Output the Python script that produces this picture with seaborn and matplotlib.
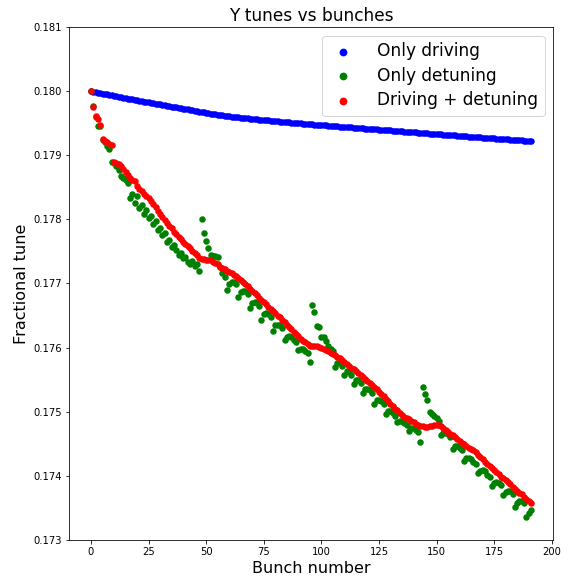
import matplotlib
matplotlib.use("Agg")
import matplotlib.pyplot as plt
from matplotlib.ticker import FormatStrFormatter, MultipleLocator
import numpy as np
import pandas as pd
import seaborn as sns

# Bunch index along the ring
bunches = list(range(192))

# Fractional vertical tune per bunch, driving only
tune_driving = [
    0.180000, 0.179992, 0.179985, 0.179977, 0.179970, 0.179962, 0.179955, 0.179948, 0.179940, 0.179933, 0.179926, 0.179919,
    0.179912, 0.179905, 0.179898, 0.179891, 0.179884, 0.179877, 0.179870, 0.179864, 0.179857, 0.179850, 0.179844, 0.179837,
    0.179831, 0.179824, 0.179818, 0.179812, 0.179806, 0.179800, 0.179794, 0.179787, 0.179780, 0.179774, 0.179767, 0.179760,
    0.179754, 0.179747, 0.179740, 0.179734, 0.179727, 0.179720, 0.179714, 0.179707, 0.179700, 0.179694, 0.179687, 0.179681,
    0.179674, 0.179668, 0.179661, 0.179655, 0.179650, 0.179644, 0.179639, 0.179634, 0.179629, 0.179624, 0.179619, 0.179614,
    0.179609, 0.179604, 0.179600, 0.179595, 0.179591, 0.179587, 0.179583, 0.179579, 0.179575, 0.179571, 0.179567, 0.179563,
    0.179559, 0.179555, 0.179552, 0.179548, 0.179545, 0.179542, 0.179538, 0.179535, 0.179532, 0.179528, 0.179525, 0.179522,
    0.179519, 0.179515, 0.179512, 0.179509, 0.179506, 0.179503, 0.179500, 0.179497, 0.179494, 0.179491, 0.179488, 0.179485,
    0.179482, 0.179479, 0.179476, 0.179473, 0.179470, 0.179467, 0.179464, 0.179462, 0.179459, 0.179456, 0.179453, 0.179450,
    0.179448, 0.179445, 0.179442, 0.179439, 0.179436, 0.179434, 0.179431, 0.179428, 0.179425, 0.179422, 0.179420, 0.179417,
    0.179414, 0.179411, 0.179408, 0.179406, 0.179403, 0.179400, 0.179397, 0.179394, 0.179392, 0.179389, 0.179386, 0.179383,
    0.179380, 0.179378, 0.179375, 0.179372, 0.179369, 0.179366, 0.179364, 0.179361, 0.179358, 0.179355, 0.179352, 0.179350,
    0.179347, 0.179344, 0.179341, 0.179338, 0.179336, 0.179333, 0.179330, 0.179327, 0.179324, 0.179322, 0.179319, 0.179316,
    0.179314, 0.179311, 0.179308, 0.179306, 0.179303, 0.179300, 0.179298, 0.179295, 0.179292, 0.179290, 0.179287, 0.179284,
    0.179282, 0.179279, 0.179276, 0.179274, 0.179271, 0.179268, 0.179266, 0.179263, 0.179260, 0.179258, 0.179255, 0.179252,
    0.179250, 0.179247, 0.179244, 0.179242, 0.179239, 0.179236, 0.179234, 0.179231, 0.179228, 0.179226, 0.179223, 0.179220,
]

# Fractional vertical tune per bunch, detuning only
tune_detuning = [
    0.18000, 0.17977, 0.17960, 0.17945, 0.17945, 0.17924, 0.17920, 0.17915, 0.17909, 0.17890, 0.17888, 0.17884,
    0.17877, 0.17868, 0.17864, 0.17861, 0.17856, 0.17833, 0.17840, 0.17826, 0.17836, 0.17817, 0.17822, 0.17809,
    0.17815, 0.17802, 0.17806, 0.17793, 0.17797, 0.17783, 0.17786, 0.17776, 0.17778, 0.17765, 0.17768, 0.17757,
    0.17760, 0.17752, 0.17745, 0.17748, 0.17740, 0.17741, 0.17733, 0.17730, 0.17735, 0.17727, 0.17730, 0.17719,
    0.17800, 0.17778, 0.17766, 0.17755, 0.17745, 0.17743, 0.17743, 0.17741, 0.17726, 0.17716, 0.17710, 0.17690,
    0.17700, 0.17702, 0.17702, 0.17699, 0.17679, 0.17687, 0.17689, 0.17688, 0.17683, 0.17662, 0.17670, 0.17671,
    0.17670, 0.17665, 0.17643, 0.17652, 0.17654, 0.17652, 0.17648, 0.17626, 0.17635, 0.17636, 0.17635, 0.17630,
    0.17612, 0.17617, 0.17618, 0.17617, 0.17612, 0.17608, 0.17596, 0.17598, 0.17598, 0.17595, 0.17591, 0.17578,
    0.17666, 0.17656, 0.17634, 0.17632, 0.17617, 0.17617, 0.17610, 0.17603, 0.17598, 0.17594, 0.17570, 0.17576,
    0.17576, 0.17571, 0.17558, 0.17563, 0.17562, 0.17558, 0.17544, 0.17549, 0.17549, 0.17545, 0.17529, 0.17535,
    0.17536, 0.17534, 0.17530, 0.17512, 0.17519, 0.17519, 0.17517, 0.17512, 0.17496, 0.17501, 0.17501, 0.17498,
    0.17493, 0.17484, 0.17485, 0.17485, 0.17482, 0.17479, 0.17470, 0.17475, 0.17475, 0.17472, 0.17468, 0.17453,
    0.17539, 0.17528, 0.17518, 0.17499, 0.17497, 0.17494, 0.17490, 0.17486, 0.17464, 0.17467, 0.17467, 0.17465,
    0.17460, 0.17442, 0.17446, 0.17446, 0.17444, 0.17440, 0.17423, 0.17428, 0.17428, 0.17426, 0.17422, 0.17418,
    0.17404, 0.17408, 0.17409, 0.17407, 0.17402, 0.17398, 0.17384, 0.17389, 0.17391, 0.17389, 0.17385, 0.17370,
    0.17375, 0.17377, 0.17377, 0.17372, 0.17352, 0.17358, 0.17361, 0.17361, 0.17357, 0.17336, 0.17342, 0.17347,
]

# Fractional vertical tune per bunch, driving and detuning combined
tune_both = [
    0.18000, 0.17975, 0.17961, 0.17956, 0.17947, 0.17925, 0.17922, 0.17920, 0.17918, 0.17916, 0.17890, 0.17888,
    0.17886, 0.17883, 0.17878, 0.17874, 0.17869, 0.17865, 0.17862, 0.17860, 0.17852, 0.17848, 0.17845, 0.17840,
    0.17837, 0.17834, 0.17829, 0.17824, 0.17819, 0.17813, 0.17808, 0.17804, 0.17799, 0.17795, 0.17790, 0.17786,
    0.17781, 0.17777, 0.17773, 0.17769, 0.17765, 0.17762, 0.17758, 0.17755, 0.17751, 0.17748, 0.17744, 0.17740,
    0.17738, 0.17738, 0.17737, 0.17737, 0.17736, 0.17734, 0.17732, 0.17730, 0.17726, 0.17724, 0.17722, 0.17720,
    0.17718, 0.17716, 0.17714, 0.17712, 0.17709, 0.17706, 0.17703, 0.17700, 0.17696, 0.17692, 0.17689, 0.17685,
    0.17682, 0.17678, 0.17675, 0.17671, 0.17668, 0.17664, 0.17661, 0.17657, 0.17654, 0.17650, 0.17647, 0.17643,
    0.17640, 0.17636, 0.17632, 0.17629, 0.17625, 0.17621, 0.17618, 0.17614, 0.17611, 0.17608, 0.17605, 0.17603,
    0.17603, 0.17603, 0.17602, 0.17601, 0.17600, 0.17598, 0.17596, 0.17594, 0.17592, 0.17590, 0.17588, 0.17586,
    0.17584, 0.17581, 0.17578, 0.17575, 0.17572, 0.17569, 0.17566, 0.17563, 0.17560, 0.17557, 0.17554, 0.17551,
    0.17548, 0.17545, 0.17542, 0.17538, 0.17535, 0.17531, 0.17528, 0.17524, 0.17520, 0.17516, 0.17512, 0.17509,
    0.17505, 0.17502, 0.17498, 0.17495, 0.17492, 0.17490, 0.17488, 0.17486, 0.17484, 0.17481, 0.17479, 0.17478,
    0.17477, 0.17476, 0.17476, 0.17477, 0.17478, 0.17479, 0.17479, 0.17479, 0.17477, 0.17474, 0.17471, 0.17469,
    0.17466, 0.17463, 0.17460, 0.17457, 0.17454, 0.17451, 0.17449, 0.17446, 0.17444, 0.17442, 0.17440, 0.17437,
    0.17433, 0.17430, 0.17426, 0.17422, 0.17418, 0.17415, 0.17412, 0.17409, 0.17406, 0.17403, 0.17399, 0.17396,
    0.17393, 0.17390, 0.17387, 0.17383, 0.17380, 0.17377, 0.17374, 0.17371, 0.17367, 0.17364, 0.17361, 0.17358,
]

series_labels = ["Only driving", "Only detuning", "Driving + detuning"]
series_colors = ["blue", "green", "red"]

df = pd.DataFrame({
    "bunch": bunches,
    series_labels[0]: tune_driving,
    series_labels[1]: tune_detuning,
    series_labels[2]: tune_both,
})

fig = plt.figure(figsize=(570 / 72, 583 / 72), dpi=72)
ax = fig.add_axes([69 / 570, 43 / 583, 484 / 570, 513 / 583])

for label, color in zip(series_labels, series_colors):
    sns.scatterplot(data=df, x="bunch", y=label, color=color, s=42,
                    linewidth=0, label=label, legend=False, ax=ax)

ax.set_ylim(0.173, 0.181)
ax.yaxis.set_major_locator(MultipleLocator(0.001))
ax.yaxis.set_major_formatter(FormatStrFormatter("%.3f"))
ax.xaxis.set_major_locator(MultipleLocator(25))

ax.set_title("Y tunes vs bunches", fontsize=17)
ax.set_xlabel("Bunch number", fontsize=16)
ax.set_ylabel("Fractional tune", fontsize=16)
ax.legend(loc="upper right", fontsize=17, markerscale=1.2,
          handlelength=1.6, handletextpad=1.2, labelspacing=0.38)

fig.savefig("out.png", dpi=72)
